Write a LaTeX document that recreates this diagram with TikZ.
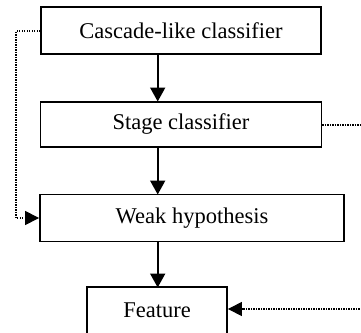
\documentclass[tikz,border=0pt]{standalone}
\usepackage{fontspec}
\setmainfont{Liberation Serif}
\usetikzlibrary{arrows.meta}
\begin{document}
\begin{tikzpicture}[x=1pt,y=-1pt,
  box/.style={draw,line width=1.8pt,inner sep=0pt,font=\fontsize{22.5}{26}\selectfont},
  solidarrow/.style={line width=1.8pt,-{Triangle[width=15pt,length=14pt]}},
  dotline/.style={line width=1.1pt,dash pattern=on 1.1pt off 1.4pt},
  dotarrow/.style={dotline,-{Triangle[width=14pt,length=14pt]}}]
\useasboundingbox (0,0) rectangle (361,332);
\node[box,minimum width=280pt,minimum height=47pt] (b1) at (181,30.5) {Cascade-like classifier};
\node[box,minimum width=281pt,minimum height=45pt] (b2) at (181,124.5) {Stage classifier};
\node[box,minimum width=304pt,minimum height=47pt] (b3) at (192,218) {Weak hypothesis};
\node[box,minimum width=140pt,minimum height=47pt] (b4) at (157,310.5) {Feature};
\draw[solidarrow] (157.7,54) -- (157.7,101.5);
\draw[solidarrow] (157.7,147) -- (157.7,194.5);
\draw[solidarrow] (157.7,241.5) -- (157.7,287.5);
\coordinate (cl) at (16,31);
\coordinate (cr1) at (362,125);
\coordinate (cr2) at (362,309);
\draw[dotarrow] (b1.west |- cl) -- (cl) |- (b3.west);
\draw[dotline] (b2.east |- cr1) -- (cr1);
\draw[dotarrow] (cr2) -- (b4.east |- cr2);
\end{tikzpicture}
\end{document}
